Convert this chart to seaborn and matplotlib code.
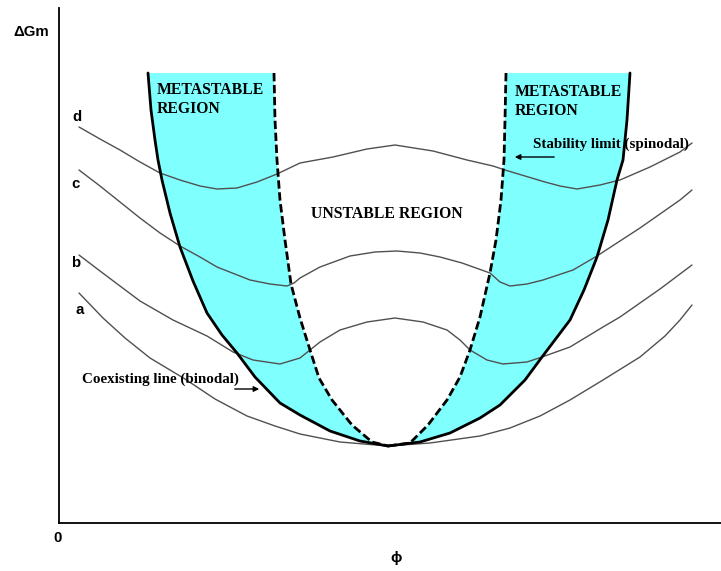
import matplotlib
matplotlib.use("Agg")
import matplotlib.pyplot as plt
import seaborn as sns
import pandas as pd

# Free-energy-of-mixing curves (phi, dGm in arbitrary units)
curve_a_phi = [20, 44, 66, 91, 126, 156, 188, 216, 241, 281, 329, 371, 421, 451, 481, 511, 544, 581, 606, 621, 633]
curve_a_g = [230, 205, 185, 165, 144, 124, 107, 97, 89, 81, 77, 80, 87, 95, 107, 123, 143, 166, 187, 203, 218]

curve_b_phi = [20, 41, 61, 81, 114, 148, 174, 194, 221, 241, 251, 261, 281, 308, 336, 364, 388, 401, 411,
               428, 444, 468, 483, 511, 544, 561, 581, 601, 621, 633]
curve_b_g = [268, 252, 237, 222, 203, 187, 171, 163, 159, 165, 173, 181, 193, 201, 205, 201, 193, 183, 173,
             163, 159, 161, 166, 176, 196, 206, 220, 234, 249, 258]

curve_c_phi = [20, 41, 61, 81, 101, 121, 141, 158, 191, 211, 228, 235, 241, 261, 291, 316, 338, 361, 381,
               403, 431, 441, 451, 468, 484, 514, 538, 561, 581, 601, 621, 633]
curve_c_g = [353, 337, 321, 305, 290, 277, 266, 256, 243, 239, 237, 240, 245, 256, 267, 271, 272, 270, 266,
             260, 250, 241, 237, 239, 243, 253, 267, 282, 295, 309, 323, 333]

curve_d_phi = [20, 41, 61, 81, 101, 121, 141, 158, 178, 198, 218, 241, 274, 308, 336, 374, 408, 434, 446,
               466, 486, 501, 518, 541, 561, 591, 621, 633]
curve_d_g = [396, 384, 373, 361, 350, 343, 337, 334, 335, 341, 349, 360, 366, 374, 378, 372, 363, 357, 353,
             347, 341, 337, 334, 338, 343, 356, 371, 380]

# Binodal (coexistence) and spinodal (stability limit) branches
binodal_left_phi = [89, 92, 96, 99, 103, 111, 121, 134, 148, 163, 178, 196, 221, 241, 271, 301, 329]
binodal_left_g = [450, 413, 383, 363, 343, 310, 276, 242, 210, 188, 170, 146, 120, 108, 92, 82, 77]
binodal_right_phi = [571, 568, 564, 558, 549, 538, 525, 511, 483, 466, 441, 421, 391, 361, 329]
binodal_right_g = [450, 403, 363, 343, 303, 266, 233, 203, 166, 143, 118, 105, 90, 81, 77]

spinodal_left_phi = [215, 216, 218, 221, 226, 232, 241, 251, 260, 273, 293, 313, 329]
spinodal_left_g = [450, 403, 363, 323, 283, 239, 205, 173, 145, 123, 98, 81, 77]
spinodal_right_phi = [447, 446, 445, 442, 437, 431, 421, 411, 401, 388, 369, 351, 329]
spinodal_right_g = [450, 403, 363, 323, 283, 250, 206, 173, 146, 123, 98, 80, 77]

curve_names = ["a", "b", "c", "d"]

sns.set_style("white")
plt.rcParams["font.family"] = ["Liberation Sans", "DejaVu Sans"]

fig = plt.figure(figsize=(7.21, 5.71), dpi=100)
ax = fig.add_axes([59 / 721, 48 / 571, 662 / 721, 515 / 571])

cyan = "#80ffff"
# metastable regions between binodal and spinodal
ax.fill(binodal_left_phi + spinodal_left_phi[::-1], binodal_left_g + spinodal_left_g[::-1],
        color=cyan, lw=0, zorder=1)
ax.fill(binodal_right_phi + spinodal_right_phi[::-1], binodal_right_g + spinodal_right_g[::-1],
        color=cyan, lw=0, zorder=1)

curves = pd.concat([
    pd.DataFrame({"phi": p, "dG": g, "curve": n})
    for n, p, g in zip(curve_names,
                       [curve_a_phi, curve_b_phi, curve_c_phi, curve_d_phi],
                       [curve_a_g, curve_b_g, curve_c_g, curve_d_g])
], ignore_index=True)
sns.lineplot(data=curves, x="phi", y="dG", hue="curve", palette=["#505050"] * 4,
             sort=False, estimator=None, legend=False, lw=1.0, ax=ax, zorder=2)

for p, g in [(binodal_left_phi, binodal_left_g), (binodal_right_phi, binodal_right_g)]:
    sns.lineplot(x=p, y=g, sort=False, estimator=None, color="black", lw=2.0, ax=ax, zorder=3)
for p, g in [(spinodal_left_phi, spinodal_left_g), (spinodal_right_phi, spinodal_right_g)]:
    sns.lineplot(x=p, y=g, sort=False, estimator=None, color="black", lw=2.0,
                 linestyle=(0, (3.0, 1.3)), ax=ax, zorder=3)

ax.set_xlim(0, 662)
ax.set_ylim(0, 515)
ax.set_xticks([])
ax.set_yticks([])
ax.set_xlabel("")
ax.set_ylabel("")
for side in ["top", "right"]:
    ax.spines[side].set_visible(False)
for side in ["left", "bottom"]:
    ax.spines[side].set_color("black")
    ax.spines[side].set_linewidth(1.3)

serif = dict(family=["Liberation Serif", "DejaVu Serif"], fontweight="bold", fontsize=11.3,
             color="black", va="baseline", ha="left")
note = dict(serif, fontsize=10.8)
sans = dict(family=["Liberation Sans", "DejaVu Sans"], fontweight="bold", fontsize=10.8, color="black")

ax.text(98, 429, "METASTABLE", **serif)
ax.text(98, 410, "REGION", **serif)
ax.text(456, 427, "METASTABLE", **serif)
ax.text(456, 408, "REGION", **serif)
ax.text(252, 305, "UNSTABLE REGION", **serif)
ax.text(474, 375, "Stability limit (spinodal)", **note)
ax.text(23, 140, "Coexisting line (binodal)", **note)

label_pos = {"d": (18, 406), "c": (17, 339), "b": (17, 260), "a": (21, 213)}
for name in curve_names:
    x, y = label_pos[name]
    ax.text(x, y, name, ha="center", va="center", **sans)

ax.annotate("", xy=(453, 366), xytext=(498, 366),
            arrowprops=dict(arrowstyle="-|>", color="black", lw=1.0, mutation_scale=8))
ax.annotate("", xy=(203, 134), xytext=(173, 134),
            arrowprops=dict(arrowstyle="-|>", color="black", lw=1.0, mutation_scale=8))

fig.text(13 / 721, 1 - 32 / 571, "ΔGm", ha="left", va="center", **sans)
fig.text(58 / 721, 1 - 538 / 571, "0", ha="center", va="center", **sans)
fig.text(396 / 721, 1 - 558 / 571, "ϕ", ha="center", va="center", **sans)

fig.savefig("out.png", dpi=100)
